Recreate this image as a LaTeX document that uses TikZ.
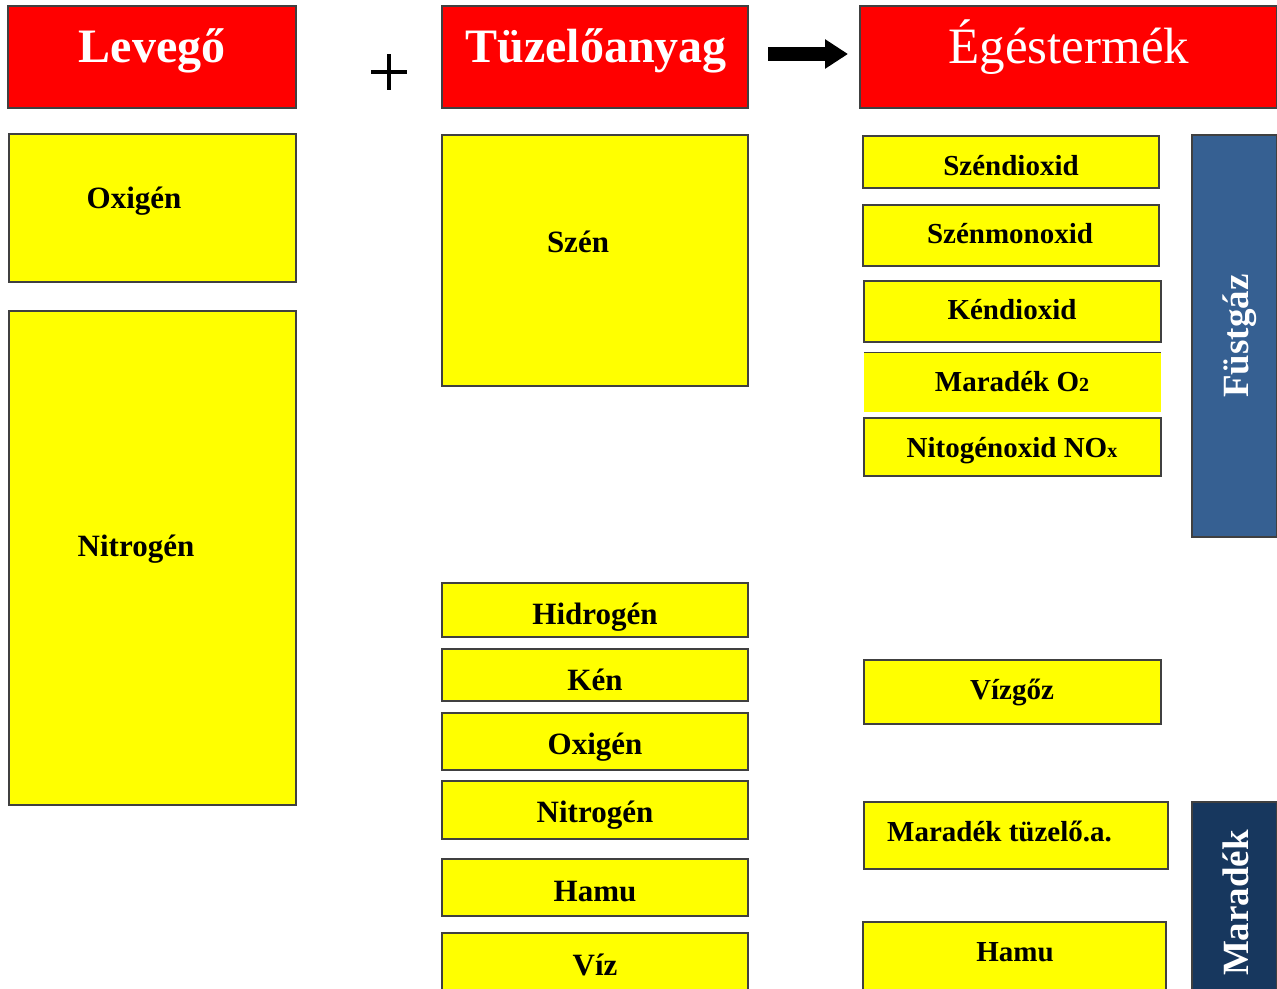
\documentclass[tikz,border=0pt]{standalone}
\usepackage{fontspec}
\setmainfont{Liberation Serif}
\usetikzlibrary{fit,arrows.meta}
\definecolor{hdrred}{RGB}{255,0,0}
\definecolor{boxyellow}{RGB}{255,255,0}
\definecolor{edgegray}{RGB}{64,64,64}
\definecolor{fustblue}{RGB}{54,96,146}
\definecolor{maradblue}{RGB}{23,55,94}
\tikzset{
  hdrbox/.style={fill=hdrred, draw=edgegray, line width=1.2pt, inner sep=0pt},
  ybox/.style={fill=boxyellow, draw=edgegray, line width=1.2pt, inner sep=0pt},
  bluebox/.style={draw=edgegray, line width=1.4pt, inner sep=0pt},
  hdrtxt/.style={text=white, font=\bfseries\fontsize{48}{54}\selectfont, inner sep=0pt, anchor=base},
  lbl/.style={text=black, font=\bfseries\fontsize{31}{36}\selectfont, inner sep=0pt, anchor=base},
  lblr/.style={text=black, font=\bfseries\fontsize{29}{34}\selectfont, inner sep=0pt, anchor=base},
  vtxt/.style={text=white, font=\bfseries\fontsize{37}{42}\selectfont, inner sep=0pt, anchor=base, rotate=90},
}
\begin{document}
\begin{tikzpicture}[x=1pt,y=-1pt]
\useasboundingbox (0,0) rectangle (1277,988);
\clip (0,0) rectangle (1277,988);
\fill[white] (0,0) rectangle (1277,988);

% headers
\node[hdrbox, fit={(8,6) (296,108)}] (hlev) {};
\node[hdrbox, fit={(442,6) (748,108)}] (htuz) {};
\node[hdrbox, fit={(860,6) (1277,108)}] (hege) {};
\node[hdrtxt] (tlev) at (152,62) {Levegő};
\node[hdrtxt] (ttuz) at (596,62) {Tüzelőanyag};
\node[hdrtxt, font=\fontsize{51}{56}\selectfont] (tege) at (1069,63) {Égéstermék};

% plus sign
\coordinate (pl) at (371,72);
\coordinate (pr) at (407,72);
\coordinate (pt) at (389,54);
\coordinate (pb) at (389,90);
\draw[line width=3.6pt] (pl) -- (pr);
\draw[line width=3.6pt] (pt) -- (pb);

% arrow
\coordinate (a1) at (768,54);
\coordinate (a2) at (848,54);
\draw[line width=14pt, -{Triangle[length=23pt,width=28pt]}] (a1) -- (a2);

% left column
\node[ybox, fit={(9,134) (296,282)}] (lox) {};
\node[ybox, fit={(9,311) (296,805)}] (lni) {};
\node[lbl] (tlox) at (134,208) {Oxigén};
\node[lbl] (tlni) at (136,556) {Nitrogén};

% middle column
\node[ybox, fit={(442,135) (748,386)}] (msz) {};
\node[ybox, fit={(442,583) (748,637)}] (mhi) {};
\node[ybox, fit={(442,649) (748,701)}] (mke) {};
\node[ybox, fit={(442,713) (748,770)}] (mox) {};
\node[ybox, fit={(442,781) (748,839)}] (mni) {};
\node[ybox, fit={(442,859) (748,916)}] (mha) {};
\node[ybox, fit={(442,933) (748,1000)}] (mvi) {};
\node[lbl] (tmsz) at (578,252) {Szén};
\node[lbl] (tmhi) at (595,624) {Hidrogén};
\node[lbl] (tmke) at (595,690) {Kén};
\node[lbl] (tmox) at (595,754) {Oxigén};
\node[lbl] (tmni) at (595,822) {Nitrogén};
\node[lbl] (tmha) at (595,901) {Hamu};
\node[lbl] (tmvi) at (595,975) {Víz};

% right column
\node[ybox, fit={(863,136) (1159,188)}] (rco2) {};
\node[ybox, fit={(863,205) (1159,266)}] (rco) {};
\node[ybox, fit={(864,281) (1161,342)}] (rso2) {};
\node[fill=boxyellow, inner sep=0pt, fit={(864,353) (1161,412)}] (ro2) {};
\draw[edgegray, line width=1.2pt] (ro2.north west) -- (ro2.north east);
\node[ybox, fit={(864,418) (1161,476)}] (rnox) {};
\node[ybox, fit={(864,660) (1161,724)}] (rviz) {};
\node[ybox, fit={(864,802) (1168,869)}] (rmar) {};
\node[ybox, fit={(863,922) (1166,1000)}] (rham) {};
\node[lblr] (trco2) at (1011,175) {Széndioxid};
\node[lblr] (trco) at (1010,243) {Szénmonoxid};
\node[lblr] (trso2) at (1012,319) {Kéndioxid};
\node[lblr] (tro2) at (1012,391) {Maradék O{\fontsize{20}{22}\selectfont 2}};
\node[lblr] (trnox) at (1012,457) {Nitogénoxid NO{\fontsize{20}{22}\selectfont x}};
\node[lblr] (trviz) at (1012,699) {Vízgőz};
\node[lblr] (trmar) at (999.5,841) {Maradék tüzelő.a.};
\node[lblr] (trham) at (1015,961) {Hamu};

% side boxes
\node[bluebox, fill=fustblue, fit={(1192,135) (1277,537)}] (fust) {};
\node[bluebox, fill=maradblue, fit={(1192,802) (1277,1000)}] (marad) {};
\node[vtxt] (tfust) at (1248,336) {Füstgáz};
\node[vtxt] (tmarad) at (1248,903) {Maradék};
\end{tikzpicture}
\end{document}
